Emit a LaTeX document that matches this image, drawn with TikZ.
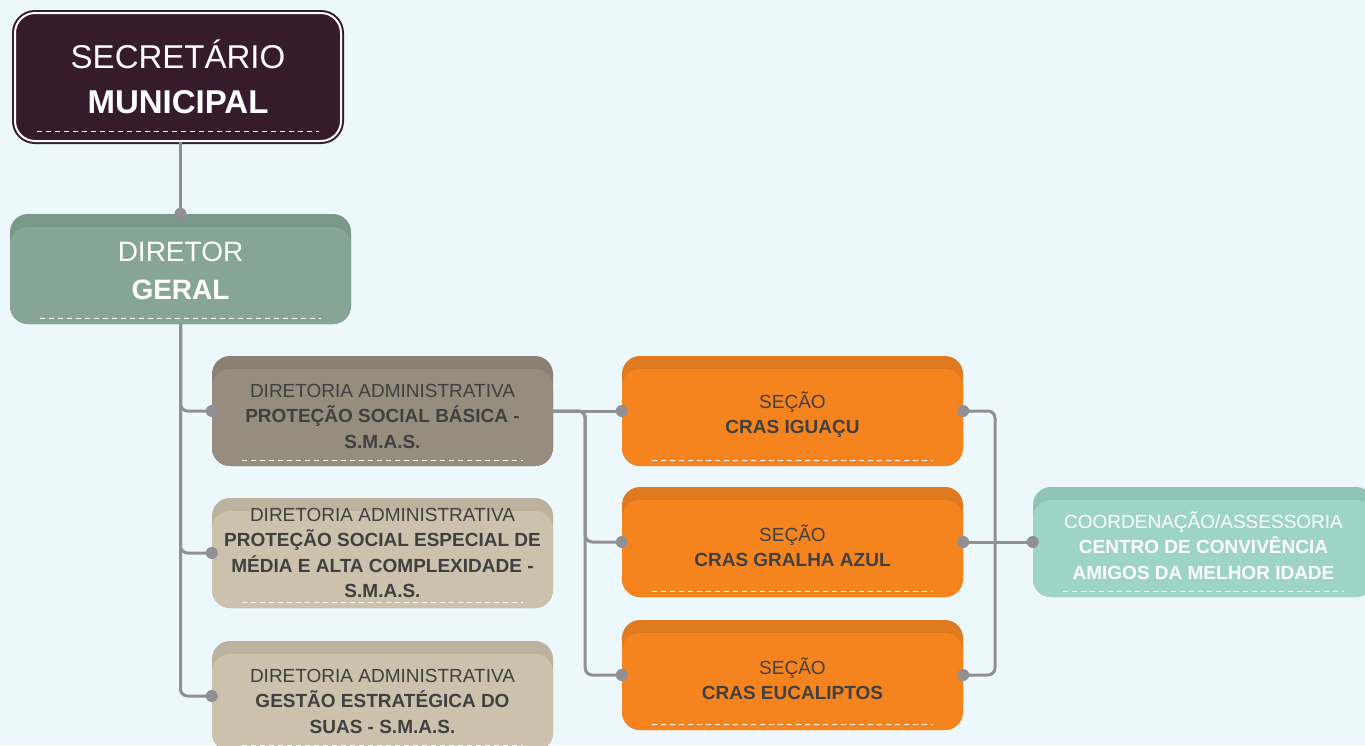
\documentclass[tikz,border=0pt]{standalone}
\usepackage{fontspec}
\setmainfont{Liberation Sans}
\usepackage{tikz}

\definecolor{bgblue}{HTML}{EDF8FD}
\definecolor{secdark}{HTML}{361B2C}
\definecolor{dgdark}{HTML}{7A9888}
\definecolor{dglight}{HTML}{86A596}
\definecolor{pbdark}{HTML}{8A8172}
\definecolor{pblight}{HTML}{978D7E}
\definecolor{tandark}{HTML}{BDB29D}
\definecolor{tanlight}{HTML}{CBC1AC}
\definecolor{orgdark}{HTML}{E07A20}
\definecolor{orglight}{HTML}{F5841F}
\definecolor{mintdark}{HTML}{92C4B6}
\definecolor{mintlight}{HTML}{9ED4C5}
\definecolor{txtgray}{HTML}{404040}
\definecolor{linegray}{HTML}{8F8F95}

% strut that pushes the text below the darker top band
\newcommand{\topgap}{\rule{0pt}{24pt}}

\begin{document}
\begin{tikzpicture}[x=1pt, y=-1pt,
	orgbox/.style 2 args={rectangle, rounded corners=18pt, fill=#1, minimum width=341pt, minimum height=110pt,
		align=center, text=txtgray, font=\fontsize{19}{25.5}\selectfont,
		path picture={
			\fill[#2, rounded corners=18pt] ([yshift=-13pt]path picture bounding box.north west) rectangle (path picture bounding box.south east);
			\draw[white, line width=1pt, dash pattern=on 5pt off 4pt] ([xshift=30pt, yshift=6pt]path picture bounding box.south west) -- ([xshift=-30pt, yshift=6pt]path picture bounding box.south east);
		}},
	conn/.style={linegray, line width=3pt, rounded corners=7pt},
	dot/.style={fill=linegray, circle, inner sep=0pt, minimum size=12pt}]

	\fill[bgblue] (0,0) rectangle (1365,745);
	\useasboundingbox (0,0) rectangle (1365,745);

	% boxes
	\node[rectangle, rounded corners=20pt, draw=secdark, fill=secdark, double=white, double distance=2pt, line width=2pt,
		minimum width=326pt, minimum height=128pt, align=center, text=white, font=\fontsize{33}{45}\selectfont,
		path picture={\draw[white, line width=1pt, dash pattern=on 5pt off 4pt] ([xshift=22pt, yshift=10pt]path picture bounding box.south west) -- ([xshift=-22pt, yshift=10pt]path picture bounding box.south east);}]
		(sec) at (178,77) {SECRETÁRIO\\\textbf{MUNICIPAL}};

	\node[orgbox={dgdark}{dglight}, text=white, font=\fontsize{28}{38}\selectfont] (dg) at (180.5,269) {\topgap DIRETOR\\\textbf{GERAL}};

	\node[orgbox={pbdark}{pblight}] (psb) at (382.5,411) {\topgap DIRETORIA ADMINISTRATIVA\\\textbf{PROTEÇÃO SOCIAL BÁSICA -}\\\textbf{S.M.A.S.}};
	\node[orgbox={tandark}{tanlight}] (pse) at (382.5,553) {DIRETORIA ADMINISTRATIVA\\\textbf{PROTEÇÃO SOCIAL ESPECIAL DE}\\\textbf{MÉDIA E ALTA COMPLEXIDADE -}\\\textbf{S.M.A.S.}};
	\node[orgbox={tandark}{tanlight}] (gest) at (382.5,696) {\topgap DIRETORIA ADMINISTRATIVA\\\textbf{GESTÃO ESTRATÉGICA DO}\\\textbf{SUAS - S.M.A.S.}};

	\node[orgbox={orgdark}{orglight}] (iguacu) at (792.5,411) {\topgap SEÇÃO\\\textbf{CRAS IGUAÇU}};
	\node[orgbox={orgdark}{orglight}] (gralha) at (792.5,542) {\topgap SEÇÃO\\\textbf{CRAS GRALHA AZUL}};
	\node[orgbox={orgdark}{orglight}] (eucal) at (792.5,675) {\topgap SEÇÃO\\\textbf{CRAS EUCALIPTOS}};

	\node[orgbox={mintdark}{mintlight}, text=white] (cca) at (1203.5,542) {\topgap COORDENAÇÃO/ASSESSORIA\\\textbf{CENTRO DE CONVIVÊNCIA}\\\textbf{AMIGOS DA MELHOR IDADE}};

	% connectors
	\coordinate (jl) at ([xshift=32pt]psb.east);
	\coordinate (jr) at (995,542);
	\draw[conn] (dg.north |- sec.south) -- (dg.north);
	\draw[conn] (dg.south) |- (psb.west);
	\draw[conn] (dg.south) |- (pse.west);
	\draw[conn] (dg.south) |- (gest.west);
	\draw[conn] (psb.east) -- (iguacu.west);
	\draw[conn] (psb.east) -- (jl) |- (gralha.west);
	\draw[conn] (psb.east) -- (jl) |- (eucal.west);
	\draw[conn] (iguacu.east) -| (jr);
	\draw[conn] (eucal.east) -| (jr);
	\draw[conn] (gralha.east) -- (cca.west);

	\foreach \n/\a in {dg/north, psb/west, pse/west, gest/west, iguacu/west, gralha/west, eucal/west, iguacu/east, gralha/east, eucal/east, cca/west}
		\node[dot] at (\n.\a) {};
\end{tikzpicture}
\end{document}
